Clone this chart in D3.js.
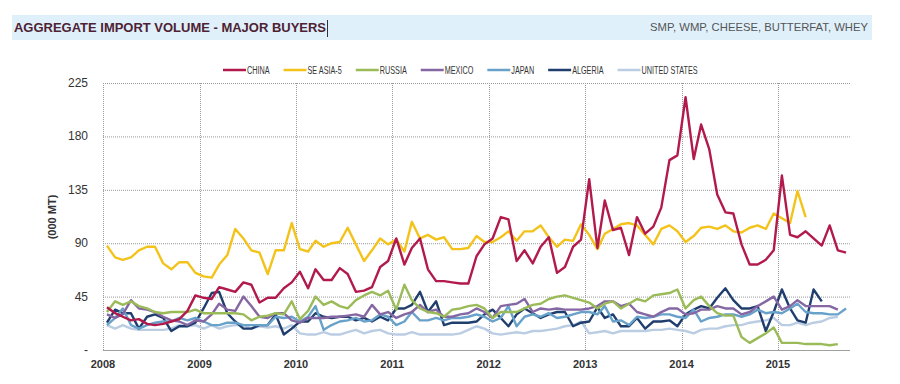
<!DOCTYPE html>
<html>
<head>
<meta charset="utf-8">
<script src="https://cdn.jsdelivr.net/npm/d3@7"></script>
<style>
  body { margin: 0; background: #fff; }
  svg { display: block; font-family: "Liberation Sans", Arial, sans-serif; }
</style>
</head>
<body>
<svg id="chart" width="900" height="384"></svg>
<script>
// monthly import volumes, '000 MT, Jan 2008 onwards
const startYear = 2008
const yearTicks = [2008, 2009, 2010, 2011, 2012, 2013, 2014, 2015]
const yTicks = [0, 45, 90, 135, 180, 225]

const seriesNames = ['CHINA', 'SE ASIA-5', 'RUSSIA', 'MEXICO', 'JAPAN', 'ALGERIA', 'UNITED STATES']
const seriesColors = ['#b21a4c', '#f3c31c', '#9bbb59', '#8567a3', '#68a1c9', '#1f3e6e', '#bacde3']

const china = [36, 31, 28, 25, 26, 22, 21, 22, 24, 26, 33, 46,
  44, 43, 53, 51, 49, 57, 55, 40, 44, 44, 52, 57,
  66, 52, 68, 59, 59, 69, 64, 49, 50, 53, 70, 75,
  94, 72, 86, 94, 68, 58, 58, 57, 56, 56, 79, 89,
  94, 112, 110, 75, 84, 73, 87, 95, 65, 70, 87, 93,
  144, 86, 126, 101, 103, 80, 112, 98, 104, 120, 160, 164,
  213, 161, 190, 169, 131, 116, 115, 89, 72, 72, 76, 84,
  147, 97, 95, 100, 94, 88, 105, 84, 82]
const seAsia = [88, 78, 76, 78, 84, 87, 87, 73, 68, 74, 74, 65,
  62, 61, 72, 80, 102, 94, 84, 82, 64, 84, 84, 107,
  85, 83, 92, 87, 90, 91, 103, 89, 75, 84, 94, 89,
  93, 83, 108, 94, 97, 93, 95, 85, 85, 86, 96, 91,
  91, 95, 100, 92, 100, 100, 105, 95, 87, 93, 92, 106,
  97, 85, 98, 102, 106, 107, 105, 97, 89, 102, 105, 100,
  91, 96, 103, 104, 102, 105, 100, 99, 103, 105, 102, 115,
  111, 107, 134, 112]
const russia = [32, 41, 38, 41, 37, 35, 32, 31, 32, 32, 32, 34,
  31, 31, 31, 31, 31, 30, 25, 28, 29, 31, 30, 41,
  26, 33, 45, 38, 41, 37, 35, 42, 46, 49, 46, 50,
  34, 55, 42, 35, 32, 31, 28, 34, 35, 37, 38, 35,
  27, 32, 32, 32, 35, 38, 39, 43, 45, 46, 44, 42,
  40, 35, 39, 41, 35, 39, 43, 41, 46, 47, 48, 51,
  35, 42, 45, 37, 31, 29, 29, 11, 6, 10, 14, 19,
  6, 6, 6, 5, 5, 5, 4, 5]
const mexico = [30, 27, 30, 42, 35, 34, 32, 28, 25, 24, 21, 25,
  24, 30, 39, 34, 33, 45, 37, 28, 27, 31, 31, 25,
  23, 27, 27, 27, 28, 28, 29, 30, 28, 38, 30, 32,
  27, 30, 32, 38, 32, 34, 28, 28, 30, 31, 35, 32,
  27, 37, 38, 39, 43, 32, 35, 34, 35, 34, 34, 34,
  35, 37, 41, 41, 37, 39, 32, 30, 28, 32, 35, 35,
  30, 31, 34, 34, 37, 35, 35, 30, 32, 37, 41, 45,
  34, 37, 42, 37, 37, 37, 37, 34]
const japan = [21, 27, 35, 21, 18, 21, 23, 24, 24, 27, 25, 27,
  24, 21, 21, 23, 23, 21, 21, 21, 21, 28, 27, 28,
  24, 28, 37, 17, 21, 24, 25, 27, 24, 25, 30, 28,
  21, 24, 32, 25, 25, 27, 25, 27, 27, 28, 30, 28,
  24, 27, 37, 20, 28, 30, 28, 31, 27, 28, 30, 32,
  32, 30, 37, 24, 25, 21, 28, 27, 28, 30, 30, 28,
  27, 34, 24, 27, 28, 30, 30, 28, 30, 34, 31, 32,
  31, 35, 39, 32, 31, 31, 30, 30, 35]
const algeria = [23, 34, 31, 31, 18, 28, 30, 27, 16, 20, 20, 23,
  35, 48, 49, 31, 24, 18, 18, 21, 21, 30, 13, 18,
  24, 24, 31, 28, 27, 28, 28, 25, 27, 24, 28, 25,
  35, 35, 38, 49, 32, 41, 21, 23, 23, 23, 24, 30,
  34, 27, 20, 30, 35, 31, 27, 30, 32, 32, 20, 23,
  24, 36, 27, 30, 20, 20, 27, 18, 24, 24, 25, 20,
  30, 34, 37, 35, 44, 52, 42, 35, 35, 37, 16, 32,
  51, 35, 25, 23, 51, 41]
const unitedStates = [21, 18, 21, 18, 17, 17, 17, 17, 18, 21, 20, 21,
  18, 21, 18, 20, 21, 21, 18, 20, 19, 20, 18, 21,
  14, 13, 13, 15, 13, 13, 15, 17, 14, 16, 17, 14,
  13, 13, 15, 13, 13, 13, 13, 13, 14, 17, 20, 18,
  14, 13, 14, 15, 14, 16, 16, 17, 18, 20, 21, 24,
  14, 15, 16, 14, 16, 16, 16, 16, 17, 17, 18, 17,
  16, 14, 17, 18, 18, 20, 21, 21, 23, 24, 25, 27,
  21, 21, 23, 21, 23, 24, 27, 28]

const seriesValues = [china, seAsia, russia, mexico, japan, algeria, unitedStates]

const svg = d3.select('#chart')
const plotLeft = 103, plotRight = 850, plotTop = 83, plotBottom = 350

// header band
svg.append('rect')
  .attr('x', 12).attr('y', 15).attr('width', 860).attr('height', 25)
  .attr('fill', '#dff0fa')
svg.append('text')
  .attr('x', 14).attr('y', 32)
  .attr('font-size', 12).attr('font-weight', 'bold')
  .attr('fill', '#4e2233')
  .attr('textLength', 312).attr('lengthAdjust', 'spacingAndGlyphs')
  .text('AGGREGATE IMPORT VOLUME - MAJOR BUYERS')
svg.append('line')
  .attr('x1', 327.5).attr('x2', 327.5).attr('y1', 20).attr('y2', 37)
  .attr('stroke', '#333').attr('stroke-width', 1)
svg.append('text')
  .attr('x', 868).attr('y', 31)
  .attr('text-anchor', 'end')
  .attr('font-size', 11).attr('fill', '#555')
  .attr('textLength', 218).attr('lengthAdjust', 'spacingAndGlyphs')
  .text('SMP, WMP, CHEESE, BUTTERFAT, WHEY')

const x = d3.scaleTime()
  .domain([new Date(startYear, 0, 1), new Date(2015, 9, 1)])
  .range([plotLeft, plotRight])
const y = d3.scaleLinear().domain([0, 225]).range([plotBottom, plotTop])

// grid
const grid = svg.append('g')
grid.selectAll('.hg')
  .data(yTicks.filter(d => d > 0))
  .enter().append('line')
  .attr('x1', plotLeft).attr('x2', plotRight)
  .attr('y1', d => y(d) + 0.5).attr('y2', d => y(d) + 0.5)
  .attr('stroke', '#9a9a9a').attr('stroke-dasharray', '1,1')
grid.selectAll('.vg')
  .data(yearTicks)
  .enter().append('line')
  .attr('x1', d => Math.round(x(new Date(d, 0, 1))) + 0.5)
  .attr('x2', d => Math.round(x(new Date(d, 0, 1))) + 0.5)
  .attr('y1', plotTop).attr('y2', plotBottom)
  .attr('stroke', '#9a9a9a').attr('stroke-dasharray', '1,1')
svg.append('line')
  .attr('x1', plotLeft).attr('x2', plotRight)
  .attr('y1', plotBottom + 0.5).attr('y2', plotBottom + 0.5)
  .attr('stroke', '#a0a0a0')

// y labels
svg.selectAll('.yl')
  .data(yTicks)
  .enter().append('text')
  .attr('x', 88).attr('y', d => y(d) + 4)
  .attr('text-anchor', 'end')
  .attr('font-size', 12).attr('fill', '#333')
  .text(d => d === 0 ? '-' : d)
svg.append('text')
  .attr('transform', 'translate(56,217) rotate(-90)')
  .attr('text-anchor', 'middle')
  .attr('font-size', 11).attr('font-weight', 'bold').attr('fill', '#333')
  .text('(000 MT)')

// x labels
svg.selectAll('.xl')
  .data(yearTicks)
  .enter().append('text')
  .attr('x', d => x(new Date(d, 0, 1)))
  .attr('y', 368)
  .attr('text-anchor', 'middle')
  .attr('font-size', 11).attr('font-weight', 'bold').attr('fill', '#333')
  .text(d => d)

// lines
const line = d3.line()
  .defined(d => d.v != null)
  .x(d => x(d.date))
  .y(d => y(d.v))

const series = seriesNames.map((name, k) => ({
  name: name,
  color: seriesColors[k],
  points: seriesValues[k].map((v, i) => ({ date: new Date(startYear, i, 16), v: v }))
}))

svg.append('g').selectAll('path')
  .data(series.slice().reverse())
  .enter().append('path')
  .attr('d', d => line(d.points))
  .attr('fill', 'none')
  .attr('stroke', d => d.color)
  .attr('stroke-width', 2.4)
  .attr('stroke-linejoin', 'round')

// legend, narrow text like the original
const squeeze = 0.66
const legend = svg.append('g')
let lx = 223
series.forEach(s => {
  legend.append('line')
    .attr('x1', lx).attr('x2', lx + 23)
    .attr('y1', 70).attr('y2', 70)
    .attr('stroke', s.color).attr('stroke-width', 2.5)
  const tx = lx + 24
  const t = legend.append('text')
    .attr('x', tx).attr('y', 74)
    .attr('font-size', 11).attr('fill', '#333')
    .attr('transform', `translate(${tx * (1 - squeeze)},0) scale(${squeeze},1)`)
    .text(s.name)
  lx = tx + t.node().getComputedTextLength() * squeeze + 14
})
</script>
</body>
</html>
